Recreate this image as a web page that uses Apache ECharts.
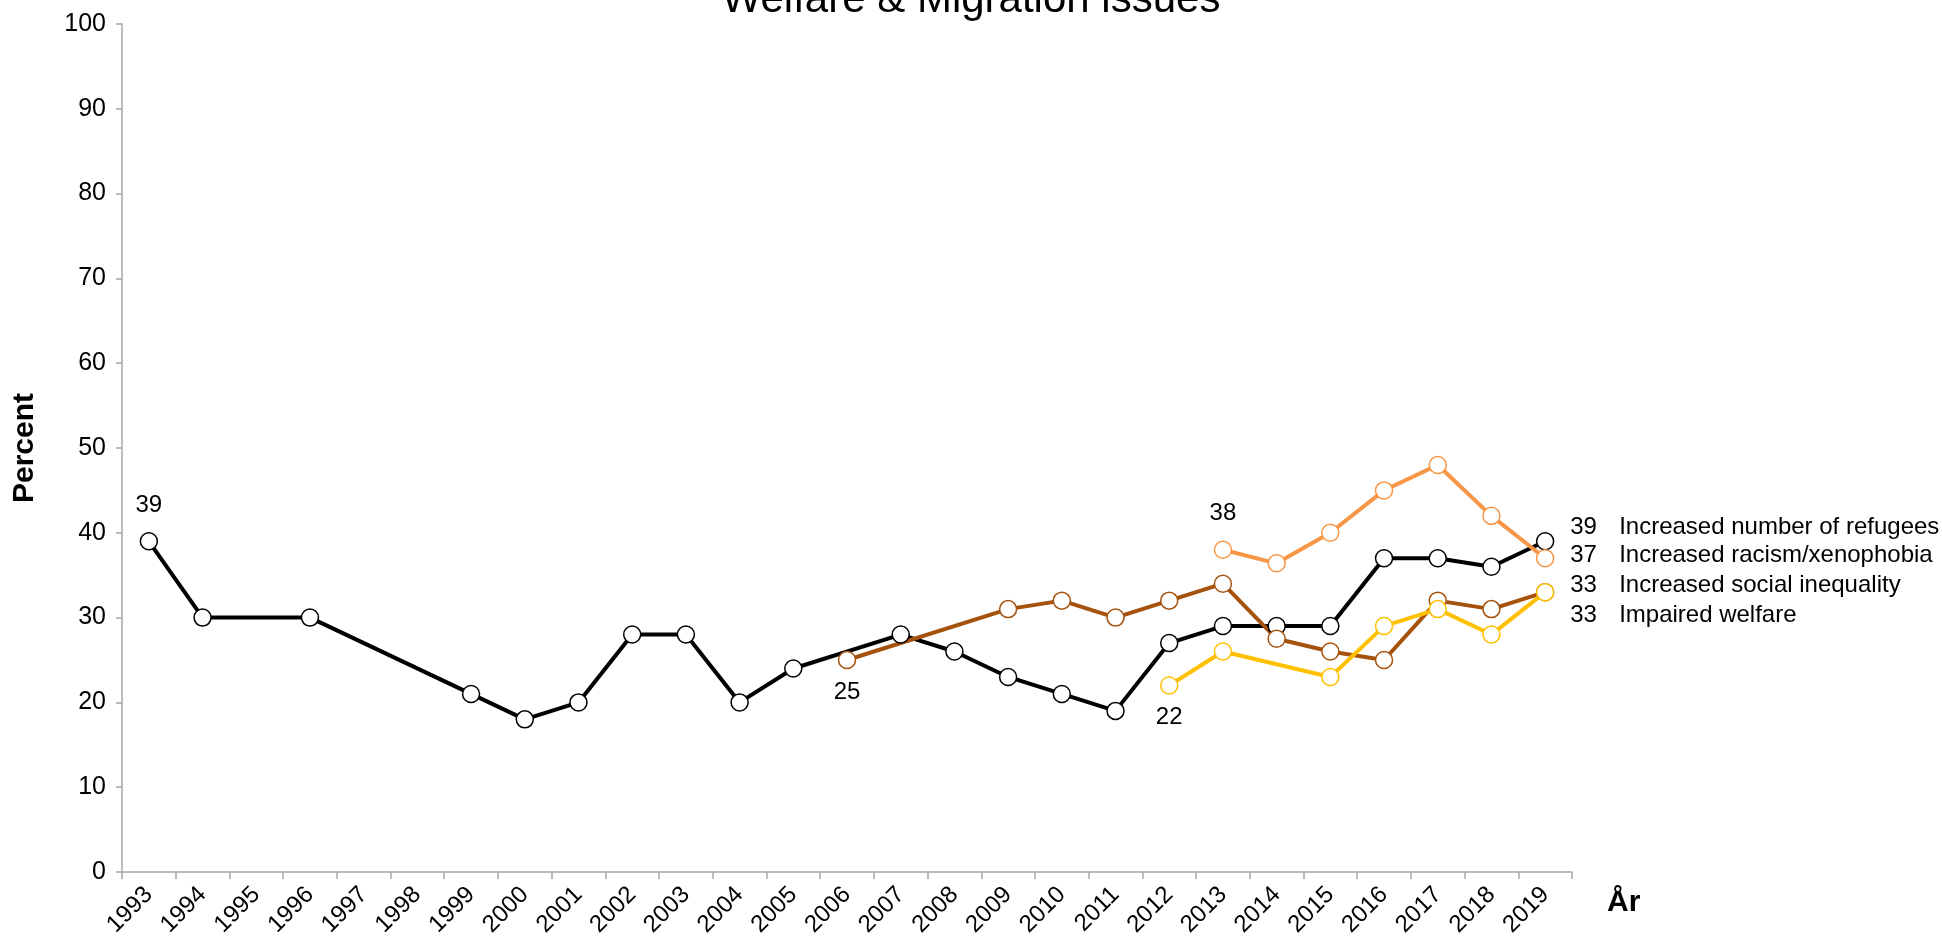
<!DOCTYPE html>
<html>
<head>
<meta charset="utf-8">
<script src="https://cdn.jsdelivr.net/npm/echarts@6/dist/echarts.min.js"></script>
<style>
  html, body { margin: 0; padding: 0; background: #fff; }
  #container { width: 1942px; height: 945px; }
</style>
</head>
<body>
<div id="container"></div>
<script>
// years on the x axis
const years = ['1993','1994','1995','1996','1997','1998','1999','2000','2001','2002','2003','2004','2005','2006',
               '2007','2008','2009','2010','2011','2012','2013','2014','2015','2016','2017','2018','2019'];

// percent values, null = not asked that year
const refugees   = [39, 30, null, 30, null, null, 21, 18, 20, 28, 28, 20, 24, null, 28, 26, 23, 21, 19, 27, 29, 29, 29, 37, 37, 36, 39];
const inequality = [null, null, null, null, null, null, null, null, null, null, null, null, null, 25, null, null, 31, 32, 30, 32, 34, 27.5, 26, 25, 32, 31, 33];
const racism     = [null, null, null, null, null, null, null, null, null, null, null, null, null, null, null, null, null, null, null, null, 38, 36.4, 40, 45, 48, 42, 37];
const welfare    = [null, null, null, null, null, null, null, null, null, null, null, null, null, null, null, null, null, null, null, 22, 26, null, 23, 29, 31, 28, 33];

const FONT = '"Liberation Sans", Arial, sans-serif';

// which point gets a value label, and where
function withLabel(values, idx, pos) {
  return values.map((v, i) => i === idx
    ? { value: v, label: { show: true, position: pos, distance: pos === 'top' ? 15 : 11,
        color: '#000', fontSize: 24, fontFamily: FONT } }
    : v);
}

function makeSeries(name, values, color, endDy) {
  return {
    name: name,
    type: 'line',
    data: values,
    connectNulls: true,
    showAllSymbol: true,
    symbol: 'circle',
    symbolSize: 17,
    lineStyle: { color: color, width: 4 },
    itemStyle: { color: '#fff', borderColor: color, borderWidth: 1.5 },
    emphasis: { disabled: true },
    endLabel: {
      show: true,
      distance: 0,
      offset: [25, endDy],
      formatter: p => '{v|' + p.value + '}{n|' + p.seriesName + '}',
      rich: {
        v: { width: 49, fontSize: 24, fontFamily: FONT, color: '#000' },
        n: { fontSize: 24, fontFamily: FONT, color: '#000' }
      }
    }
  };
}

const chart = echarts.init(document.getElementById('container'));

chart.setOption({
  animation: false,
  backgroundColor: '#fff',
  title: {
    text: 'Welfare & Migration issues',
    left: 'center',
    top: -26,
    textStyle: { fontSize: 42, fontWeight: 'normal', color: '#000', fontFamily: FONT }
  },
  grid: { left: 122, right: 370, top: 24, bottom: 73 },
  xAxis: {
    type: 'category',
    data: years,
    boundaryGap: true,
    name: 'År',
    nameLocation: 'end',
    nameGap: 35,
    nameTextStyle: { fontSize: 30, fontWeight: 'bold', color: '#000', fontFamily: FONT,
                     verticalAlign: 'top', padding: [16, 0, 0, 0] },
    axisLine: { lineStyle: { color: '#a6a6a6', width: 1.5 } },
    axisTick: { show: true, length: 7, alignWithLabel: false, lineStyle: { color: '#a6a6a6', width: 1.5 } },
    axisLabel: { interval: 0, rotate: 45, margin: 19, fontSize: 24, color: '#000', fontFamily: FONT },
    splitLine: { show: false }
  },
  yAxis: {
    type: 'value',
    min: 0,
    max: 100,
    interval: 10,
    name: 'Percent',
    nameLocation: 'middle',
    nameGap: 82,
    nameTextStyle: { fontSize: 30, fontWeight: 'bold', color: '#000', fontFamily: FONT },
    axisLine: { show: true, lineStyle: { color: '#a6a6a6', width: 1.5 } },
    axisTick: { show: true, length: 6, lineStyle: { color: '#a6a6a6', width: 1.5 } },
    axisLabel: { margin: 16, fontSize: 25, color: '#000', fontFamily: FONT },
    splitLine: { show: false }
  },
  series: [
    makeSeries('Increased number of refugees', withLabel(refugees, 0, 'top'), '#000000', -14),
    makeSeries('Increased social inequality', withLabel(inequality, 13, 'bottom'), '#a5520d', -7),
    makeSeries('Increased racism/xenophobia', withLabel(racism, 20, 'top'), '#f79646', -3),
    makeSeries('Impaired welfare', withLabel(welfare, 19, 'bottom'), '#ffc000', 23)
  ]
});
</script>
</body>
</html>
